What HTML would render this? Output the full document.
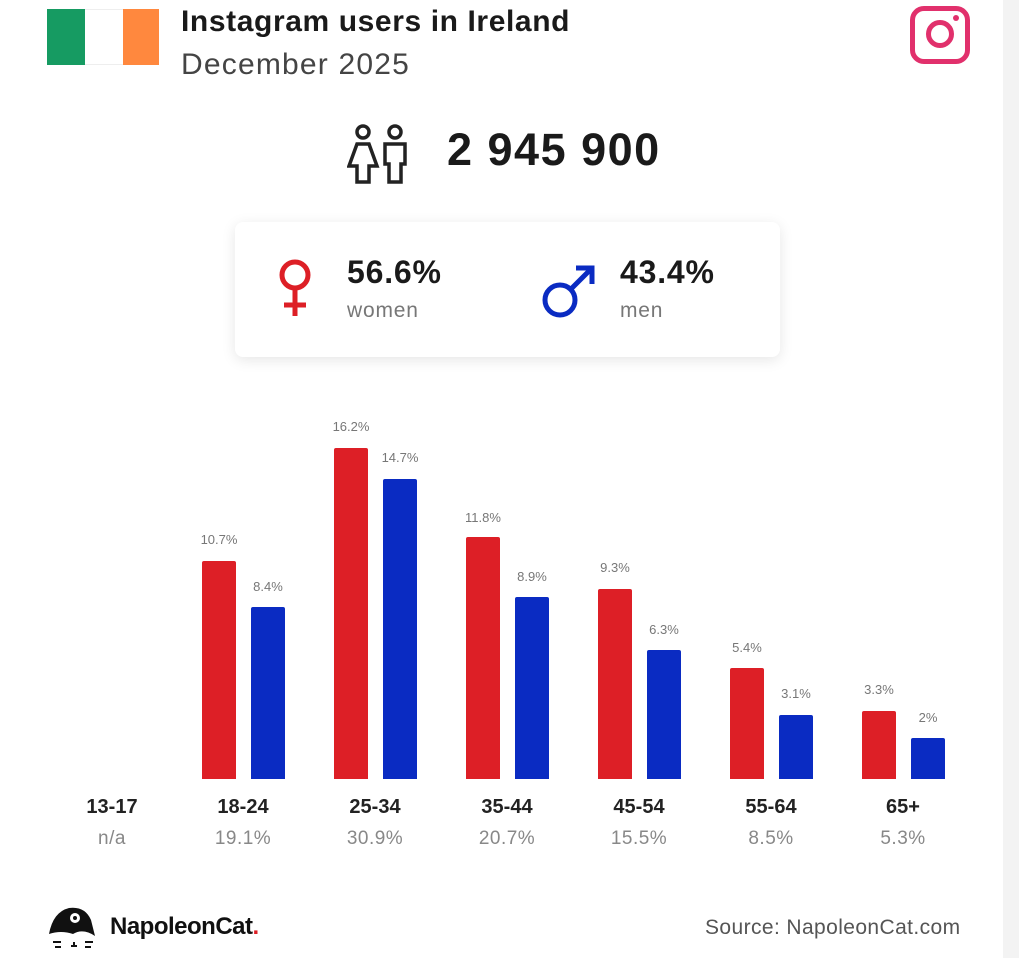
<!DOCTYPE html>
<html><head><style>
body{margin:0;width:1019px;height:958px;background:#fff;font-family:"Liberation Sans",sans-serif;position:relative;overflow:hidden}
.a{position:absolute}
.bar{position:absolute;width:34px;border-radius:2px 2px 0 0}
.r{background:#dd1f26}.b{background:#0a2bc2}
.v{position:absolute;width:60px;text-align:center;font-size:13px;color:#777}
.age{position:absolute;width:100px;text-align:center;font-size:20px;font-weight:bold;color:#222;top:796px}
.pc{position:absolute;width:100px;text-align:center;font-size:19px;color:#888;top:828px;letter-spacing:0.5px}
</style></head><body>
<div class="a" style="right:0;top:0;width:16px;height:958px;background:#f3f3f3"></div>
<div class="a" style="left:47px;top:9px;width:38px;height:56px;background:#169b62"></div>
<div class="a" style="left:85px;top:9px;width:38px;height:56px;background:#fff;border-top:1px solid #eee;border-bottom:1px solid #eee;box-sizing:border-box"></div>
<div class="a" style="left:123px;top:9px;width:36px;height:56px;background:#ff883e"></div>
<div class="a" style="left:181px;top:5px;font-size:30px;font-weight:bold;color:#1a1a1a;letter-spacing:0.6px">Instagram users in Ireland</div>
<div class="a" style="left:181px;top:48px;font-size:30px;color:#444;letter-spacing:1.2px">December 2025</div>
<div class="a" style="left:910px;top:6px;border:5px solid #e1306c;border-radius:14px;box-sizing:border-box;width:60px;height:58px"></div>
<div class="a" style="left:926px;top:20px;width:28px;height:28px;border:5px solid #e1306c;border-radius:50%;box-sizing:border-box"></div>
<div class="a" style="left:953px;top:15px;width:6px;height:6px;background:#e1306c;border-radius:50%"></div>
<svg class="a" style="left:347px;top:122px" width="66" height="64" viewBox="0 0 66 64" fill="none" stroke="#222" stroke-width="3.5">
<circle cx="16" cy="10" r="6"/><path d="M10 22h12l8 22h-8v16h-12v-16h-8z"/>
<circle cx="48" cy="10" r="6"/><path d="M38 22h20v20h-4v18h-12v-18h-4z"/></svg>
<div class="a" style="left:447px;top:124px;font-size:45px;font-weight:bold;color:#1a1a1a;letter-spacing:1.5px">2 945 900</div>
<div class="a" style="left:235px;top:222px;width:545px;height:135px;background:#fff;border-radius:8px;box-shadow:0 3px 14px rgba(0,0,0,0.1)"></div>
<svg class="a" style="left:270px;top:255px" width="50" height="65" viewBox="0 0 50 65" fill="none" stroke="#dd1f26" stroke-width="5">
<circle cx="25" cy="20" r="13"/><path d="M25 33v28M14 50h22"/></svg>
<div class="a" style="left:347px;top:254px;font-size:32px;font-weight:bold;color:#1a1a1a;letter-spacing:0.8px">56.6%</div>
<div class="a" style="left:347px;top:299px;font-size:21px;color:#777;letter-spacing:0.8px">women</div>
<svg class="a" style="left:538px;top:260px" width="62" height="62" viewBox="0 0 62 62" fill="none" stroke="#0a2bc2" stroke-width="5">
<circle cx="22" cy="40" r="15"/><path d="M33 29l21-21M38 8h16v16"/></svg>
<div class="a" style="left:620px;top:254px;font-size:32px;font-weight:bold;color:#1a1a1a;letter-spacing:0.8px">43.4%</div>
<div class="a" style="left:620px;top:299px;font-size:21px;color:#777;letter-spacing:0.8px">men</div>

<div class="bar r" style="left:202px;top:561px;height:218px"></div><div class="v" style="left:189px;top:532px">10.7%</div>
<div class="bar b" style="left:251px;top:607px;height:172px"></div><div class="v" style="left:238px;top:579px">8.4%</div>
<div class="bar r" style="left:334px;top:448px;height:331px"></div><div class="v" style="left:321px;top:419px">16.2%</div>
<div class="bar b" style="left:383px;top:479px;height:300px"></div><div class="v" style="left:370px;top:450px">14.7%</div>
<div class="bar r" style="left:466px;top:537px;height:242px"></div><div class="v" style="left:453px;top:510px">11.8%</div>
<div class="bar b" style="left:515px;top:597px;height:182px"></div><div class="v" style="left:502px;top:569px">8.9%</div>
<div class="bar r" style="left:598px;top:589px;height:190px"></div><div class="v" style="left:585px;top:560px">9.3%</div>
<div class="bar b" style="left:647px;top:650px;height:129px"></div><div class="v" style="left:634px;top:622px">6.3%</div>
<div class="bar r" style="left:730px;top:668px;height:111px"></div><div class="v" style="left:717px;top:640px">5.4%</div>
<div class="bar b" style="left:779px;top:715px;height:64px"></div><div class="v" style="left:766px;top:686px">3.1%</div>
<div class="bar r" style="left:862px;top:711px;height:68px"></div><div class="v" style="left:849px;top:682px">3.3%</div>
<div class="bar b" style="left:911px;top:738px;height:41px"></div><div class="v" style="left:898px;top:710px">2%</div>

<div class="age" style="left:62px">13-17</div><div class="pc" style="left:62px">n/a</div>
<div class="age" style="left:193px">18-24</div><div class="pc" style="left:193px">19.1%</div>
<div class="age" style="left:325px">25-34</div><div class="pc" style="left:325px">30.9%</div>
<div class="age" style="left:457px">35-44</div><div class="pc" style="left:457px">20.7%</div>
<div class="age" style="left:589px">45-54</div><div class="pc" style="left:589px">15.5%</div>
<div class="age" style="left:721px">55-64</div><div class="pc" style="left:721px">8.5%</div>
<div class="age" style="left:853px">65+</div><div class="pc" style="left:853px">5.3%</div>

<svg class="a" style="left:45px;top:906px" width="56" height="44" viewBox="0 0 56 44"><path d="M4 28 Q8 6 24 2 Q40 0 46 14 L50 30 Q38 22 28 28 Q16 24 4 28Z" fill="#111"/><circle cx="30" cy="12" r="5" fill="#fff"/><circle cx="30" cy="12" r="2" fill="#111"/><path d="M8 36h8M10 41h6M40 36h8M40 41h6M26 40h6M29 36v4" stroke="#111" stroke-width="2"/></svg>
<div class="a" style="left:110px;top:913px;font-size:24px;font-weight:bold;color:#111;letter-spacing:-0.5px">NapoleonCat<span style="color:#dd1f26">.</span></div>
<div class="a" style="left:705px;top:916px;font-size:21px;color:#555;letter-spacing:0.4px">Source: NapoleonCat.com</div>
</body></html>
